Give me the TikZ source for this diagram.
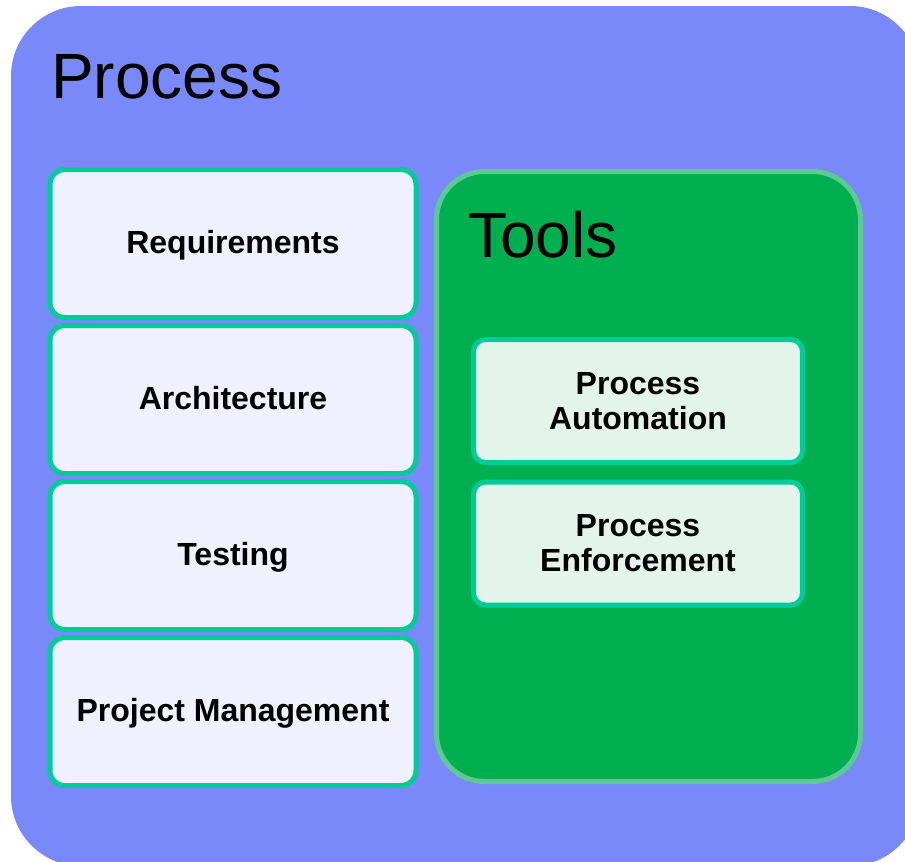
\documentclass[tikz,border=0pt]{standalone}
\usepackage{fontspec}
\setmainfont{Liberation Sans}
\usetikzlibrary{positioning}
\definecolor{procblue}{RGB}{121,137,250}
\definecolor{itemline}{RGB}{0,204,153}
\definecolor{itemfill}{RGB}{239,242,254}
\definecolor{toolgreen}{RGB}{0,175,80}
\definecolor{toolline}{RGB}{94,200,150}
\definecolor{toolfill}{RGB}{227,245,235}
\begin{document}
\begin{tikzpicture}[x=1pt,y=-1pt,every node/.style={shape=rectangle,align=center,inner sep=0pt,outer sep=0pt},
    heading/.style={anchor=base west,font=\fontsize{64}{72}\selectfont},
    itembox/.style={draw=itemline,line width=5pt,rounded corners=15pt,font=\bfseries\fontsize{32}{35}\selectfont},
    topic/.style={itembox,fill=itemfill,minimum width=366pt,minimum height=148pt,text height=23pt,text depth=3pt},
    toolitem/.style={itembox,fill=toolfill,rounded corners=12pt,minimum width=329pt,minimum height=123pt}]
  \path[use as bounding box] (0,0) rectangle (905,862);
  \clip (0,0) rectangle (905,862);
  % containers
  \node[fill=procblue,rounded corners=70pt,minimum width=909pt,minimum height=860pt] (process) at (465.5,436) {};
  \node[heading] (ptitle) at (51,98) {Process};
  \node[fill=toolgreen,draw=toolline,line width=5pt,rounded corners=48pt,minimum width=424pt,minimum height=610pt] (tools) at (648.5,476.5) {};
  \node[heading] (ttitle) at (468,257) {Tools};
  % left column
  \node[topic] (req) at (233,243.5) {Requirements};
  \node[topic,below=8pt of req] (arch) {Architecture};
  \node[topic,below=8pt of arch] (test) {Testing};
  \node[topic,below=8pt of test] (pm) {Project Management};
  % tools
  \node[toolitem] (auto) at (638,401) {Process\\Automation};
  \node[toolitem,below=19.5pt of auto] (enforce) {Process\\Enforcement};
\end{tikzpicture}
\end{document}
